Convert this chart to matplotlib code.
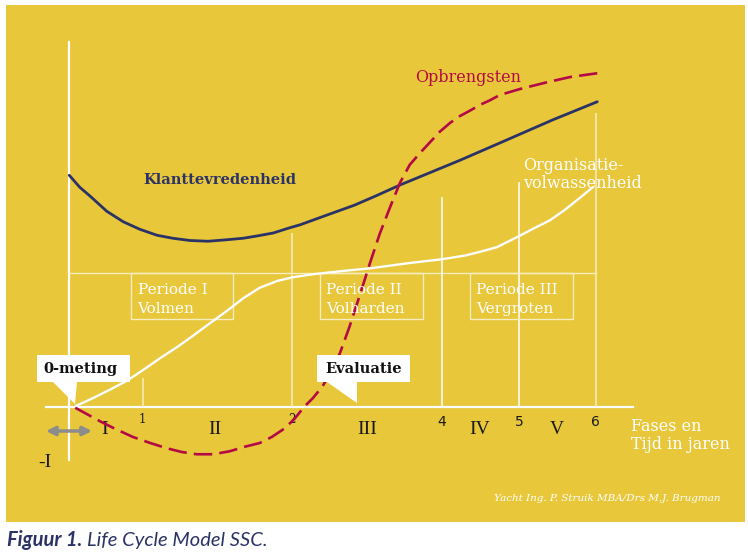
import numpy as np
import matplotlib
matplotlib.use("Agg")
import matplotlib.pyplot as plt
import matplotlib.transforms as mtransforms
from matplotlib.patches import Rectangle, Polygon

# curves, x = time (phase units, 1 unit ~ 75 px), y = level above the time axis
klant_x = [0.01, 0.15, 0.29, 0.51, 0.73, 0.95, 1.18, 1.39, 1.62, 1.86, 2.11, 2.33, 2.51,
           2.73, 2.95, 3.09, 3.42, 3.81, 4.11, 4.42, 5.22, 5.75, 6.46, 7.05]
klant_y = [3.09, 2.93, 2.81, 2.61, 2.47, 2.37, 2.29, 2.25, 2.22, 2.21, 2.23, 2.25, 2.28,
           2.32, 2.39, 2.43, 2.55, 2.69, 2.82, 2.96, 3.29, 3.52, 3.83, 4.07]

opbr_x = [0.09, 0.42, 0.62, 0.86, 1.09, 1.31, 1.51, 1.71, 1.93, 2.15, 2.35, 2.55, 2.71,
          2.89, 3.02, 3.14, 3.26, 3.39, 3.51, 3.62, 3.75, 3.89, 4.02, 4.15, 4.29, 4.42,
          4.55, 4.69, 4.82, 4.95, 5.09, 5.22, 5.35, 5.49, 5.62, 5.75, 6.02, 6.38, 6.69, 7.05]
opbr_y = [-0.01, -0.19, -0.29, -0.40, -0.48, -0.55, -0.60, -0.63, -0.63, -0.59, -0.53,
          -0.48, -0.40, -0.28, -0.15, 0.00, 0.12, 0.28, 0.49, 0.72, 1.08, 1.51, 1.92, 2.31,
          2.67, 2.99, 3.23, 3.39, 3.53, 3.67, 3.79, 3.88, 3.95, 4.03, 4.09, 4.16, 4.24,
          4.33, 4.40, 4.45]

org_x = [0.09, 0.33, 0.55, 0.78, 0.99, 1.22, 1.45, 1.66, 1.89, 2.11, 2.33, 2.55, 2.78,
         2.99, 3.26, 3.62, 4.03, 4.55, 4.98, 5.29, 5.49, 5.71, 5.93, 6.01, 6.22, 6.42,
         6.62, 6.82, 6.99]
org_y = [0.01, 0.12, 0.23, 0.35, 0.49, 0.65, 0.80, 0.95, 1.12, 1.28, 1.45, 1.59, 1.68,
         1.73, 1.77, 1.81, 1.85, 1.92, 1.97, 2.02, 2.07, 2.13, 2.24, 2.28, 2.39, 2.49,
         2.63, 2.79, 2.93]

# year ticks on the time axis and how far their guide lines go up
year_labels = ["1", "2", "4", "5", "6"]
year_pos = [0.99, 2.98, 4.98, 6.01, 7.03]
year_top = [0.39, 2.32, 2.80, 3.00, 3.92]

phase_labels = ["-I", "I", "II", "III", "IV", "V"]
periods = [("Periode I", "Volmen"), ("Periode II", "Volharden"), ("Periode III", "Vergroten")]
period_left = [0.83, 3.35, 5.35]
period_right = [2.19, 4.73, 6.73]
period_level = 1.79

yellow = "#E8C73B"
navy = "#2B3366"
crimson = "#B30A45"
cream = "#F7EDBE"

fig = plt.figure(figsize=(7.48, 5.55), dpi=100)
ax = fig.add_axes([0, 0, 1, 1])
ax.set_xlim((0 - 68.5) / 75, (748 - 68.5) / 75)
ax.set_ylim((407 - 555) / 75, (407 - 0) / 75)
ax.axis("off")

# pixel coords (top-left origin) for layout things
px = mtransforms.Affine2D().scale(1 / 748, -1 / 555).translate(0, 1) + fig.transFigure

fig.patches.append(Rectangle((6, 5), 739, 517, transform=px, facecolor=yellow,
                             edgecolor="none", zorder=-1))

# axes and guide lines
ax.plot([0, 0], [-0.71, 4.87], color="white", lw=1.6, zorder=2)
ax.plot([-0.3, 7.53], [0, 0], color="white", lw=1.6, zorder=2)
ax.plot([0, year_pos[-1]], [period_level, period_level], color=cream, lw=1.0, zorder=2)
line_cols = [cream, cream, "white", "white", cream]
ax.vlines(year_pos, 0, year_top, colors=line_cols, lw=1.1, zorder=2)

for l, r in zip(period_left, period_right):
    ax.add_patch(Rectangle((l, period_level - 0.62), r - l, 0.62, facecolor="none",
                           edgecolor=cream, lw=1.0, zorder=2))

ax.plot(org_x, org_y, color="white", lw=1.7, solid_capstyle="round",
        solid_joinstyle="round", zorder=3)
ax.plot(klant_x, klant_y, color=navy, lw=2.0, solid_capstyle="round",
        solid_joinstyle="round", zorder=3)
ax.plot(opbr_x, opbr_y, color=crimson, lw=1.9, dashes=(7.0, 2.7), zorder=4)

serif = "DejaVu Serif"
for (t1, t2), l in zip(periods, period_left):
    x = l + 0.09
    ax.text(x, (407 - 294) / 75, t1, color="white", fontsize=11, family=serif, zorder=5)
    ax.text(x, (407 - 313) / 75, t2, color="white", fontsize=11, family=serif, zorder=5)

# curve labels
ax.text(143, 180, "Klanttevredenheid", transform=px, color=navy, fontsize=10.5,
        fontweight="bold", family=serif, va="center")
ax.text(415, 78, "Opbrengsten", transform=px, color=crimson, fontsize=11.5,
        family=serif, va="center")
ax.text(523, 165, "Organisatie-", transform=px, color="white", fontsize=11.5,
        family=serif, va="center")
ax.text(523, 183, "volwassenheid", transform=px, color="white", fontsize=11.5,
        family=serif, va="center")

# year numbers
for lab, x in zip(year_labels, year_pos):
    if lab in ("1", "2"):
        ax.text(x, (407 - 423) / 75, lab, ha="center", va="baseline", fontsize=8.5,
                family=serif, color="#1a1a1a")
    else:
        ax.text(x, (407 - 426) / 75, lab, ha="center", va="baseline", fontsize=10,
                family="DejaVu Sans", color="#1a1a1a")

# phase numerals
phase_px = [(45, 467), (105, 434), (215, 434), (367, 434), (480, 434), (557, 434)]
for lab, (x, y) in zip(phase_labels, phase_px):
    ax.text(x, y, lab, transform=px, ha="center", va="baseline", fontsize=14,
            family="Liberation Serif", color="#1a1a1a")

ax.text(631, 431, "Fases en", transform=px, color="white", fontsize=11.5, family=serif,
        va="baseline")
ax.text(631, 449, "Tijd in jaren", transform=px, color="white", fontsize=11.5,
        family=serif, va="baseline")

ax.annotate("", xy=(46, 431), xytext=(92, 431), xycoords=px, textcoords=px,
            arrowprops=dict(arrowstyle="<|-|>", color="#8C8C8C", lw=2.5,
                            mutation_scale=13, shrinkA=0, shrinkB=0))

# callouts
meting = [(37, 355), (130, 355), (130, 382), (77, 382), (75, 404), (53, 382), (37, 382)]
evalu = [(317, 355), (410, 355), (410, 382), (357, 382), (357, 403), (327, 382), (317, 382)]
for poly in (meting, evalu):
    fig.patches.append(Polygon(poly, closed=True, transform=px, facecolor="white",
                               edgecolor="none", zorder=6))
fig.text(80.5, 369, "0-meting", transform=px, ha="center", va="center", fontsize=10.5,
         fontweight="bold", family=serif, color="#111111", zorder=7)
fig.text(363.5, 369, "Evaluatie", transform=px, ha="center", va="center", fontsize=10.5,
         fontweight="bold", family=serif, color="#111111", zorder=7)

ax.text(494, 501, "Yacht Ing. P. Struik MBA/Drs M.J. Brugman", transform=px, color="white",
        fontsize=7.5, style="italic", family=serif, va="baseline")

# caption under the panel
cap1 = fig.text(7, 546, "Figuur 1.", transform=px, color=navy, fontsize=14.5,
                style="italic", fontweight="bold", family="Lato", va="baseline")
fig.canvas.draw()
bb = cap1.get_window_extent(renderer=fig.canvas.get_renderer())
fig.text(bb.x1 / 748 + 0.007, 1 - 546 / 555, "Life Cycle Model SSC.", color=navy,
         fontsize=14.5, style="italic", family="Lato", va="baseline")

fig.savefig("out.png", dpi=100)
